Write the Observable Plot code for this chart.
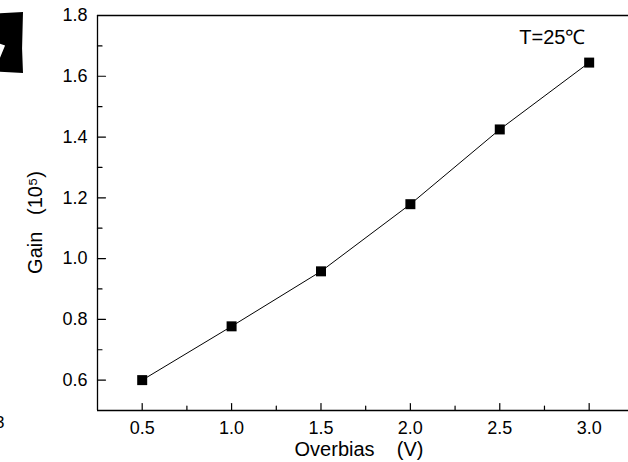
<!DOCTYPE html>
<html><head><meta charset="utf-8">
<script src="https://cdn.jsdelivr.net/npm/d3@7"></script>
<script src="https://cdn.jsdelivr.net/npm/@observablehq/plot@0.6"></script>
<style>
body{margin:0;background:#fff;}
#wrap{position:relative;width:628px;height:462px;overflow:hidden;font-family:"Liberation Sans",Arial,sans-serif;color:#000;}
#blob{position:absolute;left:0;top:12px;width:23px;height:61px;background:#000;
 clip-path:polygon(0 2%,100% 0,98% 30%,96% 60%,100% 100%,0 98%,0 75%,22% 55%,0 52%);}
#three{position:absolute;left:-5px;top:413px;font-size:17px;line-height:20px;}
svg text{white-space:pre;}
</style></head><body><div id="wrap"><div id="blob"></div><div id="three">3</div></div>
<script>
const overbias = [0.5, 1.0, 1.5, 2.0, 2.5, 3.0];
const gain = [0.600, 0.777, 0.958, 1.179, 1.425, 1.645];
const xTicks = [0.5, 1.0, 1.5, 2.0, 2.5, 3.0];
const xMinor = [0.75, 1.25, 1.75, 2.25, 2.75];
const yTicks = [0.6, 0.8, 1.0, 1.2, 1.4, 1.6, 1.8];
const yMinor = [0.7, 0.9, 1.1, 1.3, 1.5, 1.7];
const xDomain = [0.25, 3.22];
const yDomain = [0.5, 1.8];
const xLabel = "Overbias\u00a0\u00a0\u00a0\u00a0(V)";
const yLabel = "Gain\u00a0\u00a0\u00a0(10\u2075)";
const note = "T=25\u2103";

const data = overbias.map((x, i) => ({x, y: gain[i]}));
const tickShape = {draw(ctx, l) { ctx.moveTo(0, 0); ctx.lineTo(0, -l); }};

const chart = Plot.plot({
  width: 628, height: 462,
  marginLeft: 97, marginRight: 0, marginTop: 15, marginBottom: 52,
  style: {fontFamily: "Liberation Sans, Arial, sans-serif", fontSize: "18px", color: "#000", background: "transparent"},
  x: {domain: xDomain},
  y: {domain: yDomain},
  marks: [
    Plot.ruleX([xDomain[0]], {stroke: "#000", strokeWidth: 1.3}),
    Plot.ruleY(yDomain, {stroke: "#000", strokeWidth: 1.3}),
    Plot.vector(yTicks, {y: d => d, frameAnchor: "left", length: 8, rotate: 90, anchor: "start", shape: tickShape, stroke: "#000", strokeWidth: 1.2}),
    Plot.vector(yMinor, {y: d => d, frameAnchor: "left", length: 4.5, rotate: 90, anchor: "start", shape: tickShape, stroke: "#000", strokeWidth: 1.2}),
    Plot.vector(xTicks, {x: d => d, frameAnchor: "bottom", length: 7, rotate: 0, anchor: "start", shape: tickShape, stroke: "#000", strokeWidth: 1.2}),
    Plot.vector(xMinor, {x: d => d, frameAnchor: "bottom", length: 4.5, rotate: 0, anchor: "start", shape: tickShape, stroke: "#000", strokeWidth: 1.2}),
    Plot.axisX(xTicks, {tickSize: 0, tickPadding: 11, tickFormat: d3.format(".1f"), fontSize: 18, label: null, fill: "#000"}),
    Plot.axisY(yTicks, {tickSize: 0, tickPadding: 10, tickFormat: d3.format(".1f"), fontSize: 18, label: null, fill: "#000"}),
    Plot.line(data, {x: "x", y: "y", stroke: "#000", strokeWidth: 1}),
    Plot.dot(data, {x: "x", y: "y", symbol: "square", r: 5.64, fill: "#000", stroke: "none"}),
    Plot.text([xLabel], {frameAnchor: "bottom", dy: 39, dx: -4, fontSize: 20, lineAnchor: "middle", textAnchor: "middle", fill: "#000"}),
    Plot.text([yLabel], {frameAnchor: "left", dx: -62, dy: 9.5, rotate: -90, fontSize: 20, lineAnchor: "middle", textAnchor: "middle", fill: "#000"}),
    Plot.text([note], {frameAnchor: "top-right", dx: -43, dy: 22, textAnchor: "end", fontSize: 20, lineAnchor: "middle", fill: "#000"})
  ]
});
chart.style.position = "absolute";
chart.style.left = "0";
chart.style.top = "0";
document.getElementById("wrap").appendChild(chart);
</script>
</body></html>
